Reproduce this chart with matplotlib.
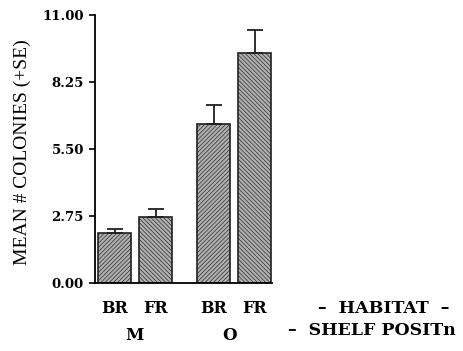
import matplotlib.pyplot as plt
import numpy as np

# -----------------------------------------------------------------------
#  Dati
# -----------------------------------------------------------------------
HABITAT = ["BR", "FR", "BR", "FR"]
SHELF = ["M", "O"]
MEANS = [2.05, 2.72, 6.53, 9.45]
SE = [0.17, 0.32, 0.78, 0.94]
HATCHES = ["////////", "\\\\\\\\\\\\\\\\", "////////", "\\\\\\\\\\\\\\\\"]
Y_TICKS = [0.0, 2.75, 5.50, 8.25, 11.00]

SERIF = ["DejaVu Serif", "Liberation Serif"]

plt.rcParams["hatch.linewidth"] = 0.45
plt.rcParams["hatch.color"] = "#3a3a3a"
plt.rcParams["font.family"] = SERIF

fig = plt.figure(figsize=(4.63, 3.51), dpi=100)
ax = fig.add_axes([0.205, 0.194, 0.382, 0.763])

x = np.array([0.0, 1.0, 2.4, 3.4])
for xi, m, se, h in zip(x, MEANS, SE, HATCHES):
    ax.bar(xi, m, width=0.8, color="#b0b0b0", edgecolor="#202020",
           linewidth=1.2, hatch=h, zorder=2)
    ax.errorbar(xi, m, yerr=[[0], [se]], color="#202020", capsize=6,
                capthick=1.3, elinewidth=1.3, zorder=3)

ax.set_xlim(-0.48, 3.81)
ax.set_ylim(0, 11)
ax.set_yticks(Y_TICKS)
ax.set_yticklabels([f"{t:.2f}" for t in Y_TICKS], fontweight="bold",
                   fontsize=9.5)
ax.set_xticks([])
ax.spines["top"].set_visible(False)
ax.spines["right"].set_visible(False)
ax.spines["left"].set_linewidth(1.3)
ax.spines["bottom"].set_linewidth(1.3)
ax.tick_params(axis="y", direction="out", length=4, width=1.2, pad=4)
ax.set_ylabel("MEAN # COLONIES (+SE)", fontsize=14,
              family=["Liberation Serif"])
ax.yaxis.set_label_coords(-0.36, 0.49)

# Etichette sotto l'asse
for xi, lab in zip(x, HABITAT):
    ax.text(xi, -1.07, lab, ha="center", va="center", fontsize=11.5,
            fontweight="bold", clip_on=False)
for xc, lab in zip([0.47, 2.78], SHELF):
    ax.text(xc, -2.18, lab, ha="center", va="center", fontsize=12,
            fontweight="bold", clip_on=False)

fig.text(0.687, 0.12, "\u2013  HABITAT  \u2013", ha="left", va="center",
         fontsize=12.5, fontweight="bold")
fig.text(0.622, 0.057, "\u2013  SHELF POSITn", ha="left", va="center",
         fontsize=12.5, fontweight="bold")

fig.savefig("out.png", dpi=100)
